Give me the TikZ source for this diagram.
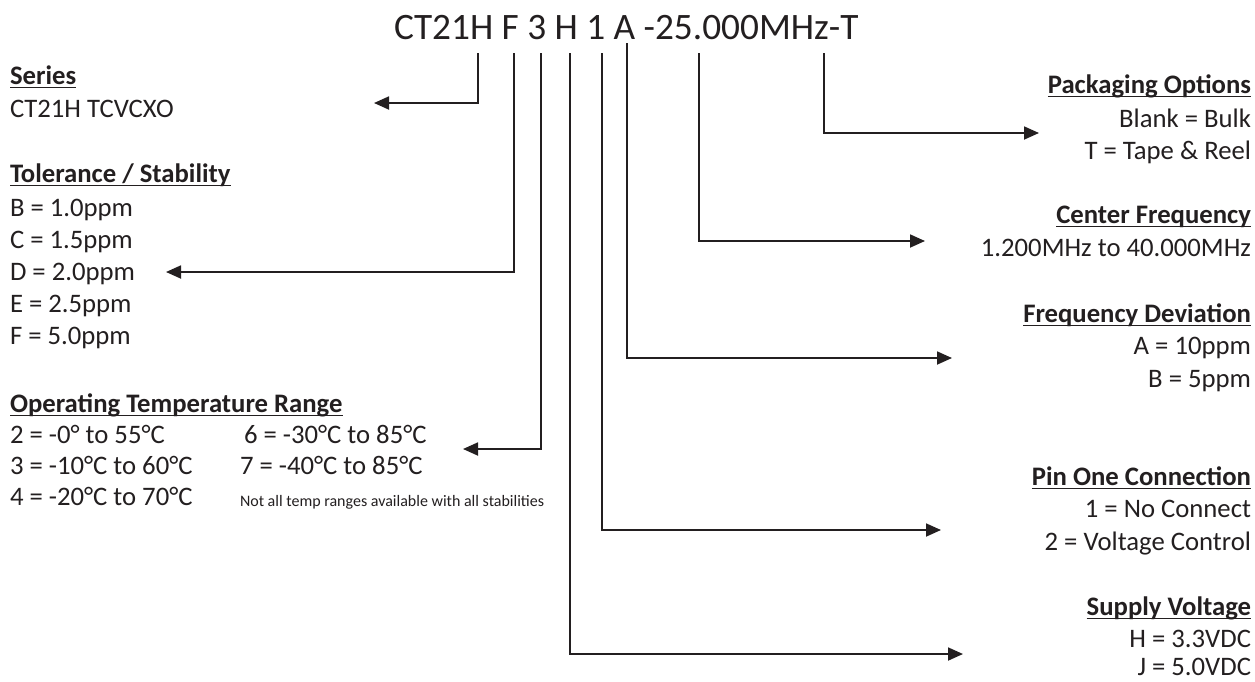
\documentclass[tikz,border=0pt]{standalone}
\usepackage{fontspec}
\setmainfont{Carlito}
\usetikzlibrary{arrows.meta}
\definecolor{ink}{RGB}{35,31,32}
\newcommand\hdul[1]{\setbox0\hbox{#1}\rlap{\rule[-4.2pt]{\wd0}{1.7pt}}\box0}
\begin{document}
\begin{tikzpicture}[x=1pt,y=-1pt,
  every node/.style={inner sep=0pt,outer sep=0pt,text=ink},
  bodyfont/.style={font=\fontsize{26.7}{30}\selectfont},
  lt/.style={bodyfont,anchor=base west},
  rt/.style={bodyfont,anchor=base east},
  hdl/.style={anchor=base west,font=\fontsize{26.7}{30}\selectfont\bfseries},
  hdr/.style={anchor=base east,font=\fontsize{26.7}{30}\selectfont\bfseries},
  note/.style={anchor=base west,font=\fontsize{16}{18}\selectfont},
  titlefont/.style={anchor=base west,font=\fontsize{37.3}{40}\selectfont},
  conn/.style={draw=ink,line width=1.8pt,-{Triangle[length=15pt,width=13pt]}}]
\fill[white] (0,0) rectangle (1255,681);
\useasboundingbox (0,0) rectangle (1255,681);

% title
\node[titlefont] (title) at (394,39) {CT21H F 3 H 1 A -25.000MHz-T};

% left column
\node[hdl] (series) at (10,84) {\hdul{Series}};
\node[lt] (seriesv) at (10,117) {CT21H TCVCXO};
\node[hdl] (tol) at (10,182) {\hdul{Tolerance / Stability}};
\node[lt] (tolB) at (10,216) {B = 1.0ppm};
\node[lt] (tolC) at (10,248) {C = 1.5ppm};
\node[lt] (tolD) at (10,280) {D = 2.0ppm};
\node[lt] (tolE) at (10,312) {E = 2.5ppm};
\node[lt] (tolF) at (10,344) {F = 5.0ppm};
\node[hdl] (temp) at (10,412) {\hdul{Operating Temperature Range}};
\node[lt] (t2) at (10,443) {2 = -0° to 55°C};
\node[lt] (t3) at (10,474) {3 = -10°C to 60°C};
\node[lt] (t4) at (10,505) {4 = -20°C to 70°C};
\node[lt] (t6) at (244,443) {6 = -30°C to 85°C};
\node[lt] (t7) at (240,474) {7 = -40°C to 85°C};
\node[note] (tnote) at (240,506) {Not all temp ranges available with all stabilities};

% right column
\node[hdr] (pack) at (1251,93) {\hdul{Packaging Options}};
\node[rt] (pack1) at (1251,127) {Blank = Bulk};
\node[rt] (pack2) at (1251,159) {T = Tape \& Reel};
\node[hdr] (cf) at (1251,223) {\hdul{Center Frequency}};
\node[rt] (cf1) at (1251,256) {1.200MHz to 40.000MHz};
\node[hdr] (fd) at (1251,322) {\hdul{Frequency Deviation}};
\node[rt] (fd1) at (1251,354) {A = 10ppm};
\node[rt] (fd2) at (1251,387) {B = 5ppm};
\node[hdr] (pin) at (1251,485) {\hdul{Pin One Connection}};
\node[rt] (pin1) at (1251,517) {1 = No Connect};
\node[rt] (pin2) at (1251,550) {2 = Voltage Control};
\node[hdr] (sv) at (1251,615) {\hdul{Supply Voltage}};
\node[rt] (sv1) at (1251,647) {H = 3.3VDC};
\node[rt] (sv2) at (1251,675) {J = 5.0VDC};

% connector start points (below the code letters) and arrow ends
\coordinate (cSer) at (478,53);  \coordinate (eSer) at (374,103);
\coordinate (cTol) at (514,53);  \coordinate (eTol) at (166,272);
\coordinate (cTmp) at (541,53);  \coordinate (eTmp) at (463,449);
\coordinate (cSup) at (570,53);  \coordinate (eSup) at (963,654);
\coordinate (cPin) at (602,53);  \coordinate (ePin) at (941,530);
\coordinate (cDev) at (627,43);  \coordinate (eDev) at (952,358);
\coordinate (cFrq) at (699,53);  \coordinate (eFrq) at (925,241);
\coordinate (cPak) at (824,53);  \coordinate (ePak) at (1039,133);

\draw[conn] (cSer) |- (eSer);
\draw[conn] (cTol) |- (eTol);
\draw[conn] (cTmp) |- (eTmp);
\draw[conn] (cSup) |- (eSup);
\draw[conn] (cPin) |- (ePin);
\draw[conn] (cDev) |- (eDev);
\draw[conn] (cFrq) |- (eFrq);
\draw[conn] (cPak) |- (ePak);
\end{tikzpicture}
\end{document}
